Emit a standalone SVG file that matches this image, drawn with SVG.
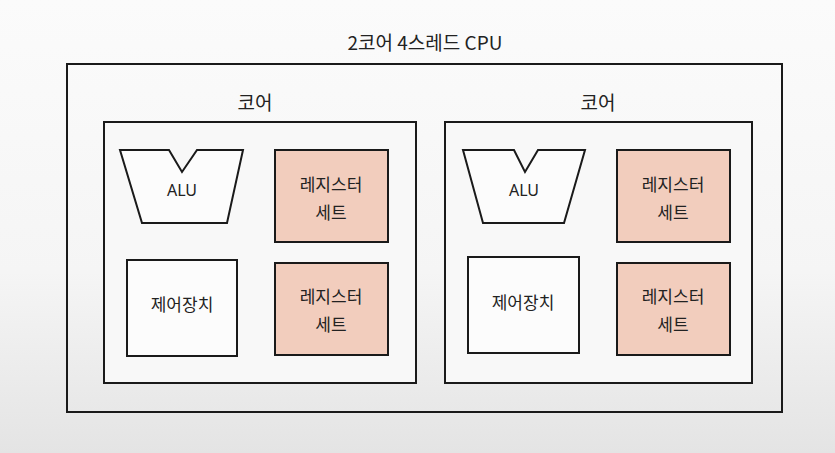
<svg xmlns="http://www.w3.org/2000/svg" width="835" height="453" viewBox="0 0 835 453">
<defs>
<linearGradient id="bg" x1="0" y1="0" x2="0" y2="1">
<stop offset="0" stop-color="#fbfbfb"/>
<stop offset="0.6" stop-color="#f5f5f5"/>
<stop offset="1" stop-color="#e4e4e4"/>
</linearGradient>
</defs>
<style>
.box{fill:#f8f8f8;stroke:#1a1a1a;stroke-width:2}
.white{fill:#fcfcfc;stroke:#1a1a1a;stroke-width:2}
.reg{fill:#f2cdbd;stroke:#1a1a1a;stroke-width:2}
.outer{fill:none;stroke:#1a1a1a;stroke-width:2}
text{font-family:"Noto Sans CJK KR","Noto Sans",sans-serif;fill:#222;text-anchor:middle}
.t{font-size:19px}
.l{font-size:17px}
.a{font-size:16px;font-family:"Noto Sans",sans-serif}
</style>
<rect width="835" height="453" fill="url(#bg)"/>
<g id="cpu">
<text class="t" x="425" y="50">2코어 4스레드 CPU</text>
<rect class="outer" x="67" y="64" width="715" height="348"/>
</g>
<g id="core1">
<text class="t" x="255" y="110">코어</text>
<rect class="box" x="104" y="122" width="312" height="261"/>
</g>
<g id="alu1">
<polygon class="white" points="120,150 169,150 182,172 197,150 243,150 227,223 142,223"/>
<text class="a" x="182" y="196">ALU</text>
</g>
<g id="reg1a">
<rect class="reg" x="275" y="150" width="113" height="92"/>
<text class="l" x="331" y="191">레지스터</text>
<text class="l" x="331" y="219">세트</text>
</g>
<g id="ctrl1">
<rect class="white" x="127" y="260" width="110" height="96"/>
<text class="l" x="182" y="311">제어장치</text>
</g>
<g id="reg1b">
<rect class="reg" x="275" y="263" width="113" height="92"/>
<text class="l" x="331" y="303">레지스터</text>
<text class="l" x="331" y="331">세트</text>
</g>
<g id="core2">
<text class="t" x="598" y="110">코어</text>
<rect class="box" x="445" y="122" width="307" height="261"/>
</g>
<g id="alu2">
<polygon class="white" points="463,150 514,150 525,172 538,150 585,150 564,223 483,223"/>
<text class="a" x="524" y="196">ALU</text>
</g>
<g id="reg2a">
<rect class="reg" x="617" y="150" width="113" height="92"/>
<text class="l" x="673" y="191">레지스터</text>
<text class="l" x="673" y="219">세트</text>
</g>
<g id="ctrl2">
<rect class="white" x="468" y="257" width="111" height="96"/>
<text class="l" x="523" y="309">제어장치</text>
</g>
<g id="reg2b">
<rect class="reg" x="617" y="263" width="113" height="92"/>
<text class="l" x="673" y="303">레지스터</text>
<text class="l" x="673" y="331">세트</text>
</g>
<g id="connectors"></g>
</svg>
